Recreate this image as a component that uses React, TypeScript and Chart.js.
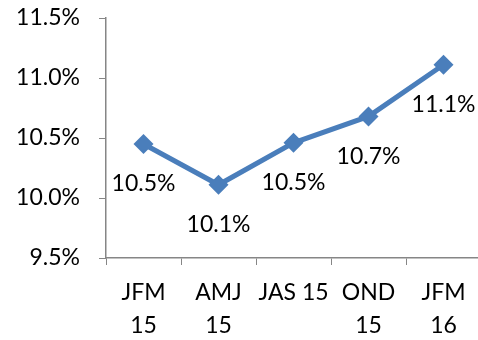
import React, { useEffect, useRef } from "react";
import { Chart, registerables } from "chart.js";

Chart.register(...registerables);

const categories: (string | string[])[] = [["JFM", "15"], ["AMJ", "15"], "JAS 15", ["OND", "15"], ["JFM", "16"]];
const rates: number[] = [10.45, 10.11, 10.46, 10.68, 11.11];
const rateLabels: string[] = ["10.5%", "10.1%", "10.5%", "10.7%", "11.1%"];
const yMin = 9.5;
const yMax = 11.5;
const yStep = 0.5;

const FONT = "Lato, 'Open Sans', sans-serif";
const AXIS = "#868686";
const BLUE = "#4A7EBB";

const dataLabelPlugin = {
  id: "dataLabels",
  afterDatasetsDraw(chart: any) {
    const ctx = chart.ctx;
    const meta = chart.getDatasetMeta(0);
    ctx.save();
    ctx.font = `23px ${FONT}`;
    ctx.fillStyle = "#000";
    ctx.textAlign = "center";
    ctx.textBaseline = "middle";
    meta.data.forEach((p: any, i: number) => {
      ctx.fillText(rateLabels[i], p.x, p.y + 40);
    });
    ctx.restore();
  },
};

export default function App() {
  const ref = useRef<HTMLCanvasElement>(null);
  useEffect(() => {
    if (!ref.current) return;
    const chart = new Chart(ref.current, {
      type: "line",
      data: {
        labels: categories,
        datasets: [
          {
            data: rates,
            borderColor: BLUE,
            backgroundColor: BLUE,
            borderWidth: 5,
            pointStyle: "rectRot",
            pointRadius: 10,
            pointBorderWidth: 0,
            pointBackgroundColor: BLUE,
            tension: 0,
            clip: false as any,
          },
        ],
      },
      options: {
        responsive: false,
        animation: false,
        layout: { padding: { top: 18, left: 0, right: 3, bottom: 0 } },
        plugins: { legend: { display: false }, tooltip: { enabled: false } },
        scales: {
          x: {
            offset: true,
            grid: { drawOnChartArea: false, drawTicks: true, tickLength: 7, color: AXIS, offset: true },
            border: { color: AXIS, width: 1.5 },
            ticks: {
              font: { family: FONT, size: 23, lineHeight: "33px" as any },
              color: "#000",
              padding: 11,
              maxRotation: 0,
              autoSkip: false,
            },
            afterFit: (s: any) => {
              s.height = 82;
              s.paddingLeft = 0;
              s.paddingRight = 0;
            },
          },
          y: {
            min: yMin,
            max: yMax,
            grid: { drawOnChartArea: false, drawTicks: true, tickLength: 7, color: AXIS },
            border: { color: AXIS, width: 1.5 },
            ticks: {
              stepSize: yStep,
              callback: (v: any) => Number(v).toFixed(1) + "%",
              font: { family: FONT, size: 23 },
              color: "#000",
              padding: 19,
            },
            afterFit: (s: any) => {
              s.width = 106;
              s.paddingTop = 0;
              s.paddingBottom = 0;
            },
          },
        },
      },
      plugins: [dataLabelPlugin],
    });
    return () => chart.destroy();
  }, []);
  return (
    <div style={{ position: "fixed", left: 0, top: 0, width: 478, height: 340, overflow: "hidden", background: "#fff" }}>
      <canvas ref={ref} width={491} height={340} style={{ display: "block" }} />
    </div>
  );
}
